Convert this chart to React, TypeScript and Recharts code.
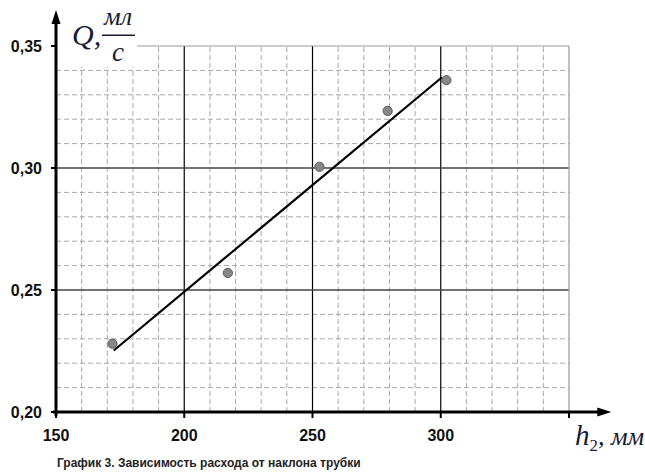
import React from 'react';
import { ComposedChart, XAxis, YAxis, Scatter, Line, ReferenceLine, ReferenceArea } from 'recharts';

const hValues = [172.0, 217.0, 252.7, 279.3, 302.2];
const qValues = [0.228, 0.257, 0.3005, 0.3234, 0.336];
const fitH = [172.5, 300.5];
const fitQ = [0.2252, 0.3372];
const xTicks = [150, 200, 250, 300, 350];
const yTicks = [0.2, 0.25, 0.3, 0.35];
const xMajor = [200, 250, 300];
const yMajor = [0.25, 0.3];
const xMinor = [160, 170, 180, 190, 210, 220, 230, 240, 260, 270, 280, 290, 310, 320, 330, 340];
const yMinor = [0.21, 0.22, 0.23, 0.24, 0.26, 0.27, 0.28, 0.29, 0.31, 0.32, 0.33, 0.34];
const xLabelHidden = [350];

const points = hValues.map((h, i) => ({ h, q: qValues[i] }));
const fit = fitH.map((h, i) => ({ h, q: fitQ[i] }));

const tickFont = "'Liberation Sans', Arial, sans-serif";
const serif = "'Liberation Serif', 'Times New Roman', serif";

const XTick = (p: any) => {
  const v = p.payload.value;
  if (xLabelHidden.includes(v)) return <g />;
  return (
    <text x={p.x} y={p.y + 21} textAnchor="middle" fontFamily={tickFont} fontWeight="bold" fontSize={16} fill="#111">
      {String(v)}
    </text>
  );
};

const YTick = (p: any) => {
  const v = p.payload.value as number;
  return (
    <text x={p.x - 7} y={p.y + 6} textAnchor="end" fontFamily={tickFont} fontWeight="bold" fontSize={16} fill="#111">
      {v.toFixed(2).replace('.', ',')}
    </text>
  );
};

const ArrowX = (p: any) => (
  <g>
    <line x1={p.x1} y1={p.y1} x2={p.x2 - 10} y2={p.y2} stroke="#000" strokeWidth={3} />
    <polygon points={`${p.x2},${p.y2} ${p.x2 - 14},${p.y2 - 4.5} ${p.x2 - 14},${p.y2 + 4.5}`} fill="#000" />
  </g>
);

const ArrowY = (p: any) => (
  <g>
    <line x1={p.x1} y1={p.y1} x2={p.x2} y2={p.y2 + 10} stroke="#000" strokeWidth={3} />
    <polygon points={`${p.x2},${p.y2} ${p.x2 - 4.5},${p.y2 + 14} ${p.x2 + 4.5},${p.y2 + 14}`} fill="#000" />
  </g>
);

const QLabel = (p: any) => {
  const vb = p.viewBox || { x: 0, y: 0 };
  const x = vb.x;
  const y = vb.y;
  return (
    <g fontFamily={serif} fontStyle="italic" fill="#1a1a36">
      <text x={x + 15} y={y + 45} fontSize={30}>Q,</text>
      <text x={x + 61} y={y + 25} fontSize={26} textAnchor="middle">мл</text>
      <line x1={x + 45} y1={y + 35} x2={x + 78} y2={y + 35} stroke="#1a1a36" strokeWidth={1.5} />
      <text x={x + 61} y={y + 61} fontSize={27} textAnchor="middle">с</text>
    </g>
  );
};

const XLabel = (p: any) => {
  const vb = p.viewBox || { x: 0, y: 0, width: 0 };
  return (
    <g>
      <text x={vb.x + vb.width + 6} y={vb.y + 33} fontFamily={serif} fill="#1a1a36" fontStyle="italic">
        <tspan fontSize={29}>h</tspan>
        <tspan fontSize={17} dy={6} fontStyle="normal">2</tspan>
        <tspan fontSize={26} dy={-6}>, мм</tspan>
      </text>
      <text x={vb.x + 1} y={vb.y + 55} fontFamily={tickFont} fontWeight="bold" fontSize={12} fill="#222">
        График 3. Зависимость расхода от наклона трубки
      </text>
    </g>
  );
};

export default function App() {
  return (
    <div style={{ position: 'absolute', left: 0, top: 0, background: '#fff' }}>
      <ComposedChart width={645} height={472} margin={{ top: 46, right: 76, bottom: 0, left: 0 }}>
        <XAxis
          type="number"
          dataKey="h"
          domain={[150, 350]}
          ticks={xTicks}
          allowDataOverflow
          height={60}
          axisLine={false}
          tickLine={{ stroke: '#000', strokeWidth: 2 }}
          tickSize={6}
          tick={<XTick />}
          label={<XLabel />}
        />
        <YAxis
          type="number"
          dataKey="q"
          domain={[0.2, 0.35]}
          ticks={yTicks}
          allowDataOverflow
          width={56}
          axisLine={false}
          tickLine={{ stroke: '#000', strokeWidth: 2 }}
          tickSize={5}
          tick={<YTick />}
        />
        {xMinor.map((v) => (
          <ReferenceLine key={'xm' + v} x={v} stroke="#a8a8a8" strokeDasharray="5 3" strokeWidth={1} zIndex={300} />
        ))}
        {yMinor.map((v) => (
          <ReferenceLine key={'ym' + v} y={v} stroke="#a8a8a8" strokeDasharray="5 3" strokeWidth={1} zIndex={300} />
        ))}
        {xMajor.map((v) => (
          <ReferenceLine key={'xM' + v} x={v} stroke="#000" strokeWidth={1.2} zIndex={310} />
        ))}
        {yMajor.map((v) => (
          <ReferenceLine key={'yM' + v} y={v} stroke="#444" strokeWidth={1.3} zIndex={310} />
        ))}
        <ReferenceLine x={350} stroke="#999" strokeWidth={1.2} zIndex={310} />
        <ReferenceLine y={0.35} stroke="#999" strokeWidth={1.2} zIndex={310} />
        <ReferenceArea
          x1={150.4}
          x2={181.6}
          y1={0.3414}
          y2={0.3688}
          ifOverflow="visible"
          fill="#fff"
          fillOpacity={1}
          stroke="none"
          zIndex={320}
          label={<QLabel />}
        />
        <ReferenceLine
          segment={[{ x: 148.8, y: 0.2 }, { x: 366.5, y: 0.2 }]}
          ifOverflow="visible"
          shape={<ArrowX />}
          zIndex={330}
        />
        <ReferenceLine
          segment={[{ x: 150, y: 0.1985 }, { x: 150, y: 0.3648 }]}
          ifOverflow="visible"
          shape={<ArrowY />}
          zIndex={330}
        />
        <Line data={fit} dataKey="q" stroke="#000" strokeWidth={2.2} dot={false} isAnimationActive={false} zIndex={400} />
        <Scatter
          data={points}
          dataKey="q"
          isAnimationActive={false}
          zIndex={410}
          shape={(p: any) => <circle cx={p.cx} cy={p.cy} r={4.6} fill="#878787" stroke="#5a5a5a" strokeWidth={1} />}
        />
      </ComposedChart>
    </div>
  );
}
